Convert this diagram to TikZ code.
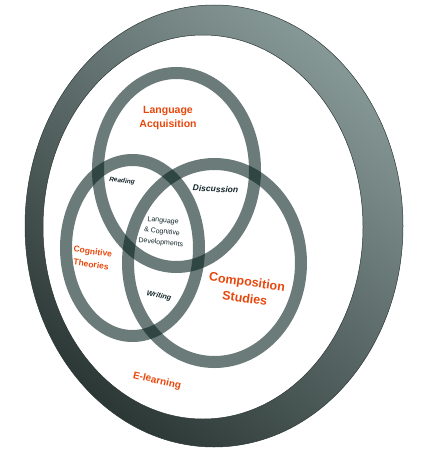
\documentclass[tikz,border=0pt]{standalone}
\usepackage{fontspec}
\setmainfont{Liberation Sans}
\usepackage{xcolor}
\definecolor{topicred}{HTML}{E8470C}
\definecolor{ringdark}{HTML}{08231F}
\definecolor{bandlight}{HTML}{869896}
\definecolor{bandmid}{HTML}{566664}
\definecolor{banddark}{HTML}{2C3836}
\definecolor{inktext}{HTML}{14252A}

\begin{document}
\begin{tikzpicture}[
        x=1pt, y=-1pt,
        topic/.style={text=topicred, align=center, inner sep=0pt},
        overlap/.style={text=inktext, inner sep=0pt, font=\bfseries\itshape},
        venn/.style={draw=ringdark, draw opacity=0.6, line width=12pt}
    ]
        \useasboundingbox (0,0) rectangle (432,452);

        % E-learning band
        \shade[even odd rule, top color=bandlight, middle color=bandmid, bottom color=banddark, shading angle=-40]
            (214,226) ellipse [x radius=189, y radius=221]
            (203,227) ellipse [x radius=160, y radius=192];
        \draw[banddark, line width=0.5pt]
            (214,226) ellipse [x radius=189, y radius=221]
            (203,227) ellipse [x radius=160, y radius=192];

        % Venn rings
        \draw[venn] (176.5,170) ellipse [x radius=78.5, y radius=97];
        \draw[venn] (132.5,248) ellipse [x radius=66.5, y radius=88];
        \draw[venn] (214.5,263) ellipse [x radius=86.5, y radius=99];

        % Fields
        \node[topic, font=\bfseries\fontsize{10.5}{14}\selectfont] (acq) at (168,118) {Language\\Acquisition};
        \node[topic, font=\bfseries\fontsize{8.5}{13}\selectfont, rotate=-8] (cog) at (92,258) {Cognitive\\Theories};
        \node[topic, font=\bfseries\fontsize{12.5}{16.5}\selectfont, rotate=-8] (comp) at (246,290) {Composition\\Studies};
        \node[topic, font=\bfseries\fontsize{10}{12}\selectfont, rotate=-13] (elearn) at (157,381) {E-learning};

        % Overlaps
        \node[overlap, font=\bfseries\itshape\fontsize{6.5}{8}\selectfont, rotate=-7] (read) at (122,181) {Reading};
        \node[overlap, font=\bfseries\itshape\fontsize{8.5}{10}\selectfont, rotate=-3] (disc) at (215.5,189) {Discussion};
        \node[overlap, font=\bfseries\itshape\fontsize{7.3}{9}\selectfont, rotate=-12] (writ) at (159,296) {Writing};
        \node[text=inktext, inner sep=0pt, align=center, font=\fontsize{7}{11}\selectfont, rotate=-6] (core) at (162,232) {Language\\\& Cognitive\\Developments};
    \end{tikzpicture}
\end{document}
